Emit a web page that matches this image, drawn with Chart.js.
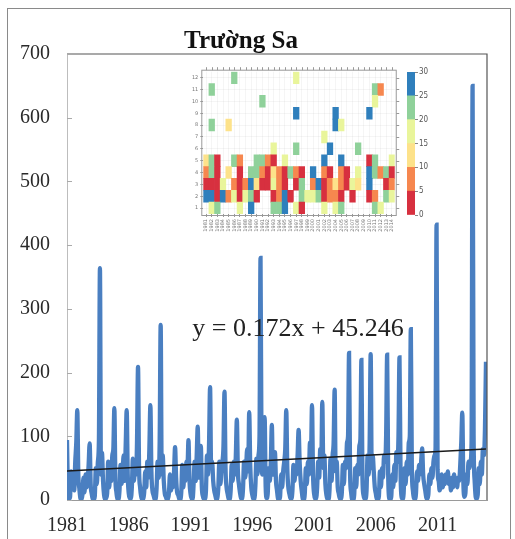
<!DOCTYPE html>
<html><head><meta charset="utf-8">
<script src="https://cdn.jsdelivr.net/npm/chart.js@4.4.1/dist/chart.umd.min.js"></script>
<style>
html,body{margin:0;padding:0;background:#fff;}
#wrap{position:relative;width:515px;height:539px;overflow:hidden;background:#fff;}
#frame{position:absolute;left:7px;top:8px;width:504px;height:600px;border:1.5px solid #8a8a8a;box-sizing:border-box;}
canvas{position:absolute;}
#main{left:0;top:0;}
#heat{left:183px;top:60px;}
#cbar{left:398px;top:60px;}
.title{position:absolute;left:241px;top:40px;transform:translate(-50%,-50%);font:bold 25px "Liberation Serif",serif;color:#111;white-space:nowrap;}
.eq{position:absolute;left:298px;top:328px;transform:translate(-50%,-50%);font:26px "Liberation Serif",serif;color:#222;white-space:nowrap;}
</style></head>
<body><div id="wrap">
<div id="frame"></div>
<canvas id="main" width="515" height="539"></canvas>
<canvas id="heat" width="217" height="182"></canvas>
<canvas id="cbar" width="40" height="170"></canvas>
<div class="title">Trường Sa</div>
<div class="eq">y = 0.172x + 45.246</div>
</div>
<script>
// ---------- data ----------
const firstYear = 1981;
const yearLabels = [1981, 1986, 1991, 1996, 2001, 2006, 2011];
const yTicks = [0, 100, 200, 300, 400, 500, 600, 700];
// monthly rainfall (mm), Jan..Dec, 1981..2014
const monthlyRain = [
  94, 12, 2, 5, 45, 20, 35, 15, 60, 90, 141, 40,      // 1981
  18, 3, 1, 8, 35, 12, 40, 20, 30, 55, 89, 25,        // 1982
  10, 2, 1, 6, 50, 25, 60, 95, 364, 40, 74, 30,       // 1983
  8, 1, 3, 10, 60, 20, 45, 30, 70, 80, 144, 35,       // 1984
  12, 2, 1, 15, 55, 25, 40, 70, 30, 85, 141, 40,      // 1985
  10, 3, 2, 20, 65, 30, 50, 40, 90, 209, 50, 20,      // 1986
  6, 1, 2, 12, 45, 20, 60, 35, 80, 149, 45, 15,       // 1987
  8, 2, 1, 18, 60, 35, 90, 275, 40, 70, 30, 10,       // 1988
  5, 1, 2, 10, 40, 15, 30, 20, 45, 83, 35, 12,        // 1989
  8, 2, 1, 12, 55, 20, 40, 30, 60, 50, 94, 30,        // 1990
  10, 3, 1, 25, 60, 30, 70, 115, 35, 50, 85, 20,      // 1991
  6, 2, 2, 15, 70, 40, 90, 177, 50, 60, 30, 15,       // 1992
  8, 1, 3, 20, 60, 25, 45, 60, 85, 170, 50, 20,       // 1993
  10, 2, 1, 15, 55, 30, 60, 40, 70, 126, 45, 25,      // 1994
  12, 3, 2, 18, 60, 35, 50, 80, 45, 138, 55, 20,      // 1995
  8, 2, 1, 22, 65, 40, 70, 100, 380, 60, 40, 90,      // 1996
  130, 20, 3, 10, 50, 30, 60, 118, 40, 55, 75, 30,    // 1997
  15, 2, 1, 5, 40, 20, 45, 60, 80, 141, 50, 20,       // 1998
  10, 3, 2, 15, 55, 30, 50, 40, 70, 110, 60, 30,      // 1999
  15, 2, 1, 10, 50, 25, 60, 40, 90, 70, 149, 40,      // 2000
  10, 2, 2, 20, 60, 35, 80, 60, 154, 50, 70, 25,      // 2001
  8, 1, 1, 15, 65, 30, 70, 90, 173, 45, 60, 20,       // 2002
  10, 2, 2, 12, 55, 25, 60, 50, 90, 100, 231, 40,     // 2003
  12, 1, 1, 8, 50, 20, 55, 40, 85, 95, 220, 35,       // 2004
  8, 2, 2, 15, 70, 40, 90, 229, 50, 70, 45, 20,       // 2005
  10, 1, 1, 6, 45, 20, 50, 35, 70, 60, 100, 228,      // 2006
  40, 3, 1, 5, 40, 20, 55, 30, 75, 60, 100, 224,      // 2007
  45, 5, 2, 10, 50, 25, 60, 40, 90, 100, 268, 50,     // 2008
  15, 3, 2, 10, 45, 30, 55, 40, 60, 81, 40, 25,       // 2009
  15, 4, 2, 8, 40, 25, 50, 35, 60, 70, 80, 432,       // 2010
  48, 30, 15, 25, 40, 20, 35, 25, 40, 30, 45, 25,     // 2011
  30, 15, 35, 20, 40, 25, 30, 20, 35, 30, 55, 90,     // 2012
  137, 30, 5, 10, 40, 25, 60, 50, 60, 90, 650, 100,   // 2013
  30, 5, 2, 8, 50, 25, 60, 40, 80, 70, 110, 217       // 2014
];
// linear trend line, value at first and last month
const trendStart = 45.4;
const trendEnd = 80.0;

// inset heat map: number of days per month (rows = month 1..12, cols = 1981..2014), null = blank
const heatYears = Array.from({length: 34}, (_, i) => String(firstYear + i));
const R = 2, O = 7, Y = 12, P = 17, G = 22, B = 27, _ = null;
const heatByMonth = [
  /* 1 */ [_, P, G, _, _, _, P, _, B, _, _, _, G, G, B, _, P, R, _, _, _, P, _, P, G, _, _, _, _, _, G, P, _, _],
  /* 2 */ [B, B, R, B, O, P, R, P, G, R, _, _, R, O, B, R, _, G, P, P, G, R, O, O, R, _, R, _, _, R, O, _, G, P],
  /* 3 */ [R, R, R, P, _, O, R, O, B, Y, R, R, P, O, R, _, R, G, _, O, B, R, O, Y, O, R, P, Y, _, B, _, _, R, O],
  /* 4 */ [O, G, R, _, Y, _, R, _, G, G, O, R, Y, O, R, G, O, R, _, B, _, O, R, _, O, R, _, P, _, B, G, O, G, R],
  /* 5 */ [Y, G, R, _, _, G, O, _, _, G, G, O, R, _, P, _, _, _, _, _, _, B, _, _, B, _, _, _, _, R, G, _, _, P],
  /* 6 */ [_, _, _, _, _, _, _, _, _, _, _, _, P, _, _, _, G, _, _, _, _, _, B, _, _, _, _, G, _, _, _, _, _, _],
  /* 7 */ [_, _, _, _, _, _, _, _, _, _, _, _, _, _, _, _, _, _, _, _, _, P, _, _, _, _, _, _, _, _, _, _, _, _],
  /* 8 */ [_, G, _, _, Y, _, _, _, _, _, _, _, _, _, _, _, _, _, _, _, _, _, _, B, P, _, _, _, _, _, _, _, _, _],
  /* 9 */ [_, _, _, _, _, _, _, _, _, _, _, _, _, _, _, _, B, _, _, _, _, _, _, B, _, _, _, _, _, B, _, _, _, _],
  /*10 */ [_, _, _, _, _, _, _, _, _, _, G, _, _, _, _, _, _, _, _, _, _, _, _, _, _, _, _, _, _, _, P, _, _, _],
  /*11 */ [_, G, _, _, _, _, _, _, _, _, _, _, _, _, _, _, _, _, _, _, _, _, _, _, _, _, _, _, _, _, G, O, _, _],
  /*12 */ [_, _, _, _, _, G, _, _, _, _, _, _, _, _, _, _, P, _, _, _, _, _, _, _, _, _, _, _, _, _, _, _, _, _]
];
const binEdges = [0, 5, 10, 15, 20, 25, 30];
const binColors = ['#d7303f', '#f6874f', '#fde28a', '#e9f59b', '#8fd19a', '#2f7fbc'];

// ---------- main chart ----------
const framePlugin = {
  id: 'frame',
  afterDraw(chart) {
    const {ctx, chartArea: a, scales} = chart;
    ctx.save();
    ctx.strokeStyle = '#555'; ctx.lineWidth = 1.2;
    ctx.beginPath();
    ctx.moveTo(a.left, a.top); ctx.lineTo(a.right, a.top); ctx.lineTo(a.right, a.bottom);
    ctx.stroke();
    // inward y tick marks
    ctx.strokeStyle = '#aaa'; ctx.lineWidth = 1;
    yTicks.forEach(v => {
      const y = Math.round(scales.y.getPixelForValue(v)) + 0.5;
      ctx.beginPath(); ctx.moveTo(a.left, y); ctx.lineTo(a.left + 5, y); ctx.stroke();
    });
    ctx.restore();
  }
};

new Chart(document.getElementById('main'), {
  type: 'line',
  data: {
    datasets: [
      {
        data: monthlyRain.map((v, i) => ({x: i, y: v})),
        borderColor: '#4a7fc1', borderWidth: 4.3, pointRadius: 0,
        cubicInterpolationMode: 'monotone', fill: false, order: 2
      },
      {
        data: [{x: 0, y: trendStart}, {x: monthlyRain.length - 1, y: trendEnd}],
        borderColor: '#1a1a1a', borderWidth: 1.6, pointRadius: 0, fill: false, order: 1
      }
    ]
  },
  options: {
    responsive: false, animation: false,
    plugins: {legend: {display: false}, tooltip: {enabled: false}},
    layout: {padding: {top: 54, right: 28, left: 0, bottom: 0}},
    scales: {
      x: {
        type: 'linear', min: 0, max: 408,
        afterBuildTicks: s => { s.ticks = yearLabels.map(y => ({value: (y - firstYear) * 12})); },
        ticks: {
          callback: v => String(firstYear + Math.round(v / 12)),
          font: {family: 'Liberation Serif', size: 20}, color: '#2a2a2a',
          padding: 14, maxRotation: 0, autoSkip: false
        },
        grid: {display: false, drawTicks: false},
        border: {color: '#9a9a9a', width: 1},
        afterFit: s => { s.height = 39; }
      },
      y: {
        min: 0, max: 700,
        afterBuildTicks: s => { s.ticks = yTicks.map(v => ({value: v})); },
        ticks: {font: {family: 'Liberation Serif', size: 20}, color: '#2a2a2a', padding: 17},
        grid: {display: false, drawTicks: false},
        border: {color: '#bdbdbd', width: 1},
        afterFit: s => { s.width = 67; }
      }
    }
  },
  plugins: [framePlugin]
});

// ---------- inset heat map ----------
const heatColor = v => v == null ? 'rgba(0,0,0,0)' : binColors[Math.min(5, Math.floor(v / 5))];
const boxPlugin = {
  id: 'box',
  afterDraw(chart) {
    const {ctx, chartArea: a} = chart;
    ctx.save(); ctx.strokeStyle = '#999'; ctx.lineWidth = 1;
    ctx.strokeRect(a.left - 1.5, a.top - 1.5, a.right - a.left + 3, a.bottom - a.top + 3);
    const xs = chart.scales.x, ys = chart.scales.y;
    ctx.beginPath();
    xs.ticks.forEach((t, i) => { const x = Math.round(xs.getPixelForTick(i)) + 0.5; ctx.moveTo(x, a.top - 1.5); ctx.lineTo(x, a.top - 4.5); });
    ys.ticks.forEach((t, i) => { const y = Math.round(ys.getPixelForValue(t.value)) + 0.5; ctx.moveTo(a.right + 1.5, y); ctx.lineTo(a.right + 4.5, y); });
    ctx.stroke();
    ctx.restore();
  }
};
new Chart(document.getElementById('heat'), {
  type: 'bar',
  data: {
    labels: heatYears,
    datasets: heatByMonth.map((row, mi) => ({
      data: row.map(v => v == null ? null : [mi + 0.5, mi + 1.5]),
      backgroundColor: row.map(heatColor),
      borderWidth: 0, grouped: false, barPercentage: 1, categoryPercentage: 1
    }))
  },
  options: {
    responsive: false, animation: false,
    plugins: {legend: {display: false}, tooltip: {enabled: false}},
    layout: {padding: {top: 11.7, right: 5, left: 0, bottom: 0}},
    scales: {
      x: {
        ticks: {font: {size: 5, family: 'DejaVu Sans'}, color: '#777', minRotation: 90, maxRotation: 90, autoSkip: false, padding: 2},
        grid: {offset: false, color: 'rgba(0,0,0,0.04)', tickLength: 3, tickColor: '#999'},
        border: {display: false},
        afterFit: s => { s.height = 28; }
      },
      y: {
        min: 0.5, max: 12.5,
        afterBuildTicks: s => { s.ticks = Array.from({length: 12}, (_, i) => ({value: i + 1})); },
        ticks: {font: {size: 5, family: 'DejaVu Sans'}, color: '#777', padding: 2},
        grid: {color: 'rgba(0,0,0,0.04)', tickLength: 3, tickColor: '#999'},
        border: {display: false},
        afterFit: s => { s.width = 20.3; }
      }
    }
  },
  plugins: [boxPlugin]
});

// ---------- colour bar ----------
new Chart(document.getElementById('cbar'), {
  type: 'bar',
  data: {
    labels: [''],
    datasets: binColors.map((c, i) => ({
      data: [[binEdges[i], binEdges[i + 1]]],
      backgroundColor: c, borderWidth: 0, grouped: false, barPercentage: 1, categoryPercentage: 1
    }))
  },
  options: {
    responsive: false, animation: false,
    plugins: {legend: {display: false}, tooltip: {enabled: false}},
    layout: {padding: {top: 12, left: 9, right: 0, bottom: 15}},
    scales: {
      x: {display: false},
      y: {
        position: 'right', min: 0, max: 30,
        afterBuildTicks: s => { s.ticks = binEdges.map(v => ({value: v})); },
        ticks: {font: {size: 8, family: 'DejaVu Sans Condensed'}, color: '#555', padding: 1},
        grid: {drawOnChartArea: false, tickLength: 3, tickColor: '#888'},
        border: {display: false},
        afterFit: s => { s.width = 23; }
      }
    }
  }
});
</script>
</body></html>
